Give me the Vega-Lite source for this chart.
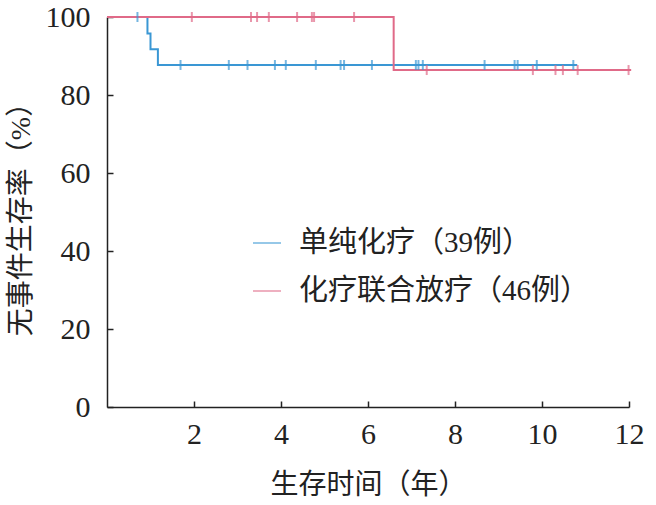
{
  "$schema": "https://vega.github.io/schema/vega-lite/v6.json",
  "width": 522,
  "height": 390,
  "autosize": {"type": "none"},
  "padding": {"left": 107, "top": 17, "right": 27, "bottom": 98},
  "config": {
    "view": {"stroke": null},
    "font": "Liberation Serif, Noto Sans CJK SC",
    "axis": {
      "domainColor": "#222222",
      "domainWidth": 1.5,
      "tickColor": "#222222",
      "tickWidth": 1.5,
      "tickSize": -6,
      "grid": false,
      "labelFlush": false,
      "labelFont": "Liberation Serif, Noto Sans CJK SC",
      "labelFontSize": 30,
      "labelColor": "#222222",
      "titleFont": "Liberation Serif, Noto Sans CJK SC",
      "titleFontSize": 28,
      "titleFontWeight": "normal",
      "titleColor": "#222222"
    }
  },
  "datasets": {
    "curves": [
      {"group": "单纯化疗（39例）", "time": 0, "survival": 100},
      {"group": "单纯化疗（39例）", "time": 0.93, "survival": 95.8},
      {"group": "单纯化疗（39例）", "time": 1.0, "survival": 91.7},
      {"group": "单纯化疗（39例）", "time": 1.17, "survival": 87.7},
      {"group": "单纯化疗（39例）", "time": 10.81, "survival": 87.7},
      {"group": "化疗联合放疗（46例）", "time": 0, "survival": 100},
      {"group": "化疗联合放疗（46例）", "time": 6.59, "survival": 86.4},
      {"group": "化疗联合放疗（46例）", "time": 12.05, "survival": 86.4}
    ],
    "censors": [
      {"group": "单纯化疗（39例）", "time": 0.70, "survival": 100},
      {"group": "单纯化疗（39例）", "time": 1.69, "survival": 87.7},
      {"group": "单纯化疗（39例）", "time": 2.80, "survival": 87.7},
      {"group": "单纯化疗（39例）", "time": 3.23, "survival": 87.7},
      {"group": "单纯化疗（39例）", "time": 3.86, "survival": 87.7},
      {"group": "单纯化疗（39例）", "time": 4.11, "survival": 87.7},
      {"group": "单纯化疗（39例）", "time": 4.80, "survival": 87.7},
      {"group": "单纯化疗（39例）", "time": 5.37, "survival": 87.7},
      {"group": "单纯化疗（39例）", "time": 5.45, "survival": 87.7},
      {"group": "单纯化疗（39例）", "time": 6.09, "survival": 87.7},
      {"group": "单纯化疗（39例）", "time": 7.10, "survival": 87.7},
      {"group": "单纯化疗（39例）", "time": 7.16, "survival": 87.7},
      {"group": "单纯化疗（39例）", "time": 7.26, "survival": 87.7},
      {"group": "单纯化疗（39例）", "time": 8.68, "survival": 87.7},
      {"group": "单纯化疗（39例）", "time": 9.37, "survival": 87.7},
      {"group": "单纯化疗（39例）", "time": 9.44, "survival": 87.7},
      {"group": "单纯化疗（39例）", "time": 9.88, "survival": 87.7},
      {"group": "单纯化疗（39例）", "time": 10.72, "survival": 87.7},
      {"group": "化疗联合放疗（46例）", "time": 1.95, "survival": 100},
      {"group": "化疗联合放疗（46例）", "time": 3.31, "survival": 100},
      {"group": "化疗联合放疗（46例）", "time": 3.45, "survival": 100},
      {"group": "化疗联合放疗（46例）", "time": 3.72, "survival": 100},
      {"group": "化疗联合放疗（46例）", "time": 4.37, "survival": 100},
      {"group": "化疗联合放疗（46例）", "time": 4.71, "survival": 100},
      {"group": "化疗联合放疗（46例）", "time": 4.76, "survival": 100},
      {"group": "化疗联合放疗（46例）", "time": 5.68, "survival": 100},
      {"group": "化疗联合放疗（46例）", "time": 7.35, "survival": 86.4},
      {"group": "化疗联合放疗（46例）", "time": 9.79, "survival": 86.4},
      {"group": "化疗联合放疗（46例）", "time": 10.31, "survival": 86.4},
      {"group": "化疗联合放疗（46例）", "time": 10.48, "survival": 86.4},
      {"group": "化疗联合放疗（46例）", "time": 10.82, "survival": 86.4},
      {"group": "化疗联合放疗（46例）", "time": 11.99, "survival": 86.4}
    ]
  },
  "encoding": {
    "x": {
      "field": "time",
      "type": "quantitative",
      "scale": {"domain": [0, 12], "nice": false, "zero": false},
      "axis": {"values": [2, 4, 6, 8, 10, 12], "title": "生存时间（年）", "labelPadding": 18, "titlePadding": 22}
    },
    "y": {
      "field": "survival",
      "type": "quantitative",
      "scale": {"domain": [0, 100], "nice": false},
      "axis": {"values": [0, 20, 40, 60, 80, 100], "title": "无事件生存率（%）", "labelPadding": 23, "titlePadding": 10}
    },
    "color": {
      "field": "group",
      "type": "nominal",
      "scale": {
        "domain": ["单纯化疗（39例）", "化疗联合放疗（46例）"],
        "range": ["#3a97d4", "#e06a88"]
      },
      "legend": {
        "title": null,
        "orient": "none",
        "legendX": 145,
        "legendY": 211,
        "symbolType": "stroke",
        "symbolSize": 784,
        "symbolStrokeWidth": 1.5,
        "labelFontSize": 29,
        "labelFont": "Liberation Serif, Noto Sans CJK SC",
        "labelColor": "#222222",
        "labelOffset": 17,
        "rowPadding": 18,
        "labelLimit": 400
      }
    }
  },
  "layer": [
    {
      "data": {"name": "curves"},
      "mark": {"type": "line", "interpolate": "step-after", "strokeWidth": 2}
    },
    {
      "data": {"name": "censors"},
      "mark": {"type": "tick", "orient": "vertical", "size": 10, "thickness": 2}
    }
  ]
}
